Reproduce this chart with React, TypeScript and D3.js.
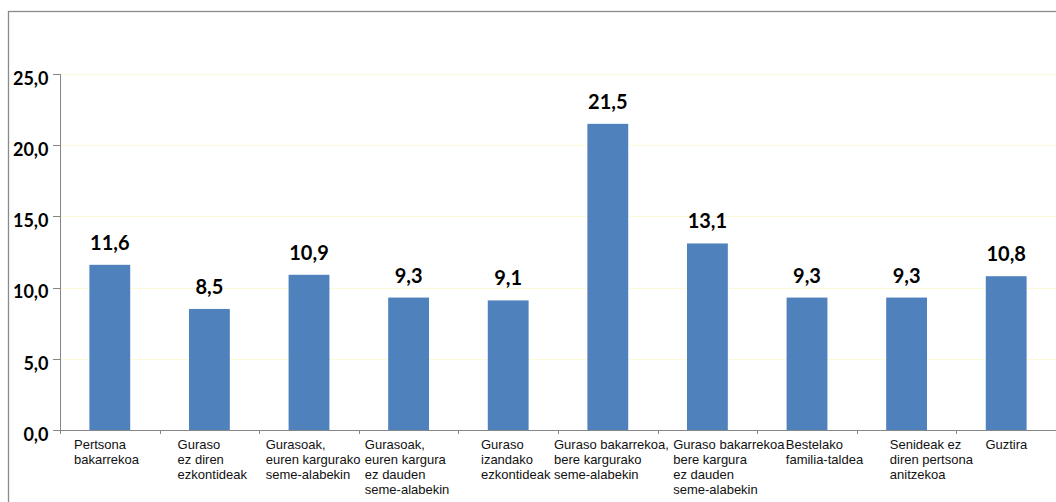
import React from "react";
import * as d3 from "d3";

const categories: string[][] = [
  ["Pertsona", "bakarrekoa"],
  ["Guraso", "ez diren", "ezkontideak"],
  ["Gurasoak,", "euren kargurako", "seme-alabekin"],
  ["Gurasoak,", "euren kargura", "ez dauden", "seme-alabekin"],
  ["Guraso", "izandako", "ezkontideak"],
  ["Guraso bakarrekoa,", "bere kargurako", "seme-alabekin"],
  ["Guraso bakarrekoa", "bere kargura", "ez dauden", "seme-alabekin"],
  ["Bestelako", "familia-taldea"],
  ["Senideak ez", "diren pertsona", "anitzekoa"],
  ["Guztira"],
];
const values: number[] = [11.6, 8.5, 10.9, 9.3, 9.1, 21.5, 13.1, 9.3, 9.3, 10.8];
const yTicks: number[] = [0, 5, 10, 15, 20, 25];

// layout: left inset of each category label block within its slot
const labelInset: number[] = [14, 18, 6.5, 6, 22.6, -4, 15.6, 28.6, 33, 29];

const W = 1056;
const H = 502;
const left = 60;
const right = 1056;
const top = 74;
const bottom = 430;

export default function App() {
  const keys = categories.map((_, i) => String(i));
  const x = d3
    .scaleBand<string>()
    .domain(keys)
    .range([left, right])
    .paddingInner(0.59)
    .paddingOuter(0.295);
  const step = x.step();
  const y = d3.scaleLinear().domain([0, 25]).range([bottom, top]);
  const fmt = (v: number) => d3.format(".1f")(v).replace(".", ",");
  const axisColor = "#868686";

  return (
    <svg
      width={W}
      height={H}
      style={{ position: "fixed", left: 0, top: 0, background: "#fff" }}
    >
      <rect x={0} y={0} width={W} height={H} fill="#fff" />
      <rect
        x={8.5}
        y={11.5}
        width={W + 20}
        height={H + 20}
        fill="none"
        stroke="#8a8a8a"
        strokeWidth={1.3}
      />
      {/* gridlines */}
      {yTicks
        .filter((t) => t > 0)
        .map((t) => (
          <line
            key={"g" + t}
            x1={left}
            x2={right}
            y1={Math.round(y(t)) + 0.5}
            y2={Math.round(y(t)) + 0.5}
            stroke="#fcfad8"
            strokeWidth={1}
          />
        ))}
      {/* bars */}
      {values.map((v, i) => (
        <rect
          key={"b" + i}
          x={x(keys[i])!}
          y={y(v)}
          width={x.bandwidth()}
          height={y(0) - y(v)}
          fill="#4f81bd"
        />
      ))}
      {/* value labels */}
      {values.map((v, i) => (
        <text
          key={"v" + i}
          x={x(keys[i])! + x.bandwidth() / 2}
          y={y(v) - 15}
          textAnchor="middle"
          fontFamily="Lato"
          fontWeight="bold"
          fontSize={20}
          fill="#000"
        >
          {fmt(v)}
        </text>
      ))}
      {/* y axis */}
      <line x1={left + 0.5} x2={left + 0.5} y1={top} y2={bottom} stroke={axisColor} />
      {yTicks.map((t) => (
        <g key={"t" + t}>
          <line
            x1={left - 7}
            x2={left}
            y1={Math.round(y(t)) + 0.5}
            y2={Math.round(y(t)) + 0.5}
            stroke={axisColor}
          />
          <text
            x={48.5}
            y={y(t) + 10.7}
            textAnchor="end"
            fontFamily="Lato"
            fontWeight="bold"
            fontSize={18}
            fill="#000"
          >
            {fmt(t)}
          </text>
        </g>
      ))}
      {/* x axis */}
      <line x1={left} x2={right} y1={bottom + 0.5} y2={bottom + 0.5} stroke={axisColor} />
      {d3.range(categories.length + 1).map((i) => {
        const bx = Math.round(left + i * step) + 0.5;
        return (
          <line key={"xt" + i} x1={bx} x2={bx} y1={bottom} y2={bottom + 4} stroke={axisColor} />
        );
      })}
      {categories.map((lines, i) => {
        const x0 = x(keys[i])! - step * 0.295 + labelInset[i];
        return (
          <text
            key={"c" + i}
            fontFamily="'Liberation Sans', Arial, sans-serif"
            fontSize={13}
            fill="#111"
          >
            {lines.map((ln, j) => (
              <tspan key={j} x={x0} y={449 + j * 15}>
                {ln}
              </tspan>
            ))}
          </text>
        );
      })}
    </svg>
  );
}
